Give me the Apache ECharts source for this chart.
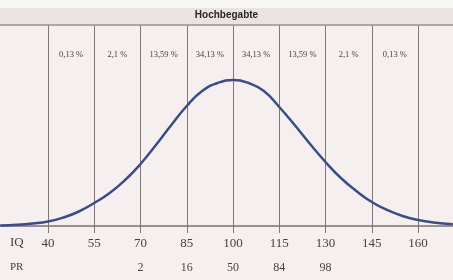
<!DOCTYPE html>
<html><head><meta charset="utf-8">
<script src="https://cdn.jsdelivr.net/npm/echarts@6/dist/echarts.min.js"></script>
<style>html,body{margin:0;padding:0;background:#f6efef}#c{width:453px;height:280px}</style>
</head><body><div id="c"></div>
<script>
// Curve (IQ, relative height)
const iq =     [24.5,30,35,40,45,50,55,60,65,70,75,80,85,90,95,100,105,110,115,120,125,130,135,140,145,150,155,160,165,171.3];
const height = [0.5,1.2,2.5,4.5,8.5,14.5,23,33,46,62,81,101,120,135,143,146,143,135,119,101,82,64,48,35,24,16,10,6,3.5,1.8];
const iqTicks = [40,55,70,85,100,115,130,145,160];
const prTicks = [70,85,100,115,130];
const prLabels = ['2','16','50','84','98'];
const bandMids = [47.5,62.5,77.5,92.5,107.5,122.5,137.5,152.5];
const bandLabels = ['0,13 %','2,1 %','13,59 %','34,13 %','34,13 %','13,59 %','2,1 %','0,13 %'];
const title = 'Hochbegabte';

const chart = echarts.init(document.getElementById('c'));
const font = 'Liberation Serif';
const txt = '#474242';
chart.setOption({
  backgroundColor: '#f6efef',
  animation: false,
  grid: {left: 0, right: 0, top: 25, bottom: 47},
  graphic: [
    {type: 'rect', shape: {x: 0, y: 0, width: 453, height: 8}, style: {fill: '#f8f5f5'}, z: -10},
    {type: 'rect', shape: {x: 0, y: 8, width: 453, height: 17}, style: {fill: '#ebe3e3'}, z: -10},
    {type: 'text', left: 'center', top: 10, style: {text: title, font: 'bold 10px "Liberation Sans"', fill: '#2a2626'}, x: -4},
    {type: 'text', left: 10, top: 236, style: {text: 'IQ', font: '13px ' + font, fill: txt}},
    {type: 'text', left: 10, top: 262, style: {text: 'PR', font: '11px ' + font, fill: txt}}
  ],
  xAxis: [
    {type: 'value', min: 24.43, max: 171.35, position: 'bottom',
     axisLine: {show: false}, axisTick: {show: false}, splitLine: {show: false},
     axisLabel: {customValues: iqTicks, margin: 4, fontFamily: font, fontSize: 13, color: txt}},
    {type: 'value', min: 24.43, max: 171.35, position: 'bottom', offset: 25,
     axisLine: {show: false}, axisTick: {show: false}, splitLine: {show: false},
     axisLabel: {customValues: prTicks, margin: 4, fontFamily: font, fontSize: 12, color: txt,
       formatter: v => prLabels[prTicks.indexOf(v)] || ''}},
    {type: 'value', min: 24.43, max: 171.35, position: 'top',
     axisLine: {show: false}, axisTick: {show: false}, splitLine: {show: false},
     axisLabel: {customValues: bandMids, inside: true, margin: 25, fontFamily: font, fontSize: 8.5, color: txt,
       formatter: v => bandLabels[bandMids.indexOf(v)] || ''}}
  ],
  yAxis: {type: 'value', min: -7, max: 201, show: false},
  series: [
    {type: 'line', xAxisIndex: 0, data: [], silent: true,
     markLine: {symbol: 'none', silent: true, label: {show: false},
       data: [
         ...iqTicks.map(v => ({xAxis: v, lineStyle: {color: '#807878', width: 1, type: 'solid'}})),
         {yAxis: 201, lineStyle: {color: '#9a9292', width: 1.5, type: 'solid'}},
         {yAxis: 0, lineStyle: {color: '#777171', width: 1.5, type: 'solid'}}
       ]}},
    {type: 'line', xAxisIndex: 0, smooth: true, showSymbol: false, z: 5,
     data: iq.map((v, i) => [v, height[i]]),
     lineStyle: {color: '#3b4c86', width: 2.5}}
  ]
});
</script></body></html>
